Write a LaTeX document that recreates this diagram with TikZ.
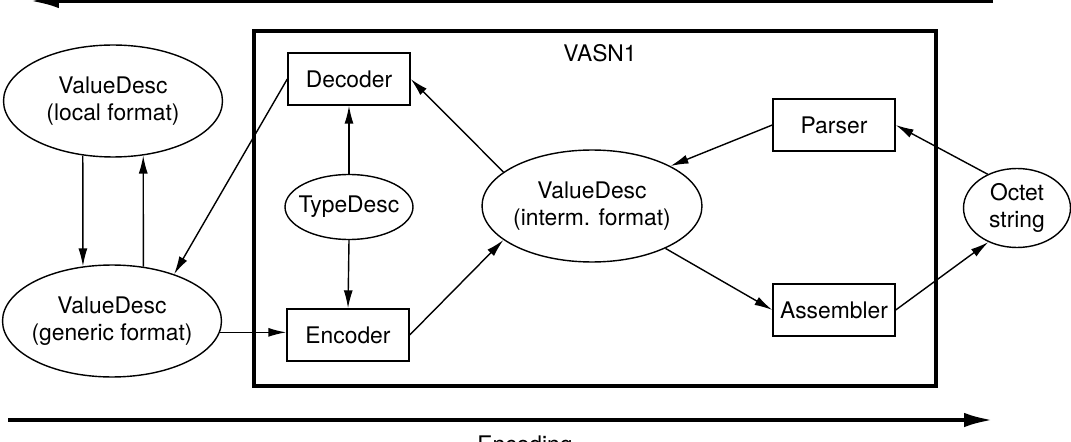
\documentclass[tikz,border=0pt]{standalone}
\usepackage{fontspec}
\setmainfont{TeX Gyre Heros}
\usetikzlibrary{shapes.geometric,arrows.meta,calc}

\begin{document}
\begin{tikzpicture}[x=0.02cm, y=-0.02cm, >={Latex[length=3.6mm,width=1.8mm]},
  font=\fontsize{13}{15.5}\selectfont,
  box/.style={draw, line width=0.8pt, align=center, inner sep=0pt, minimum width=2.44cm, minimum height=1.04cm},
  oval/.style={draw, ellipse, line width=0.8pt, align=center, inner sep=0pt, inner xsep=-0.6cm},
  link/.style={->, line width=0.8pt},
  flow/.style={line width=2.3pt, -{Latex[length=5.8mm,width=2.9mm]}}]
\useasboundingbox (0,0) rectangle (1071,442);
\clip (0,0) rectangle (1071,442);
% outer values
\node[oval, minimum width=4.38cm, minimum height=2.24cm] (loc) at (113,101) {ValueDesc\\(local format)};
\node[oval, minimum width=4.38cm, minimum height=2.24cm] (gen) at (112,321) {ValueDesc\\(generic format)};
\node[oval, minimum width=2.14cm, minimum height=1.58cm] (oct) at (1017,208) {Octet\\string};
% VASN1 module
\draw[line width=2pt] (254,31) rectangle (936,386);
\node (lbl) at (600,53) {VASN1};
\node[box] (dec) at (349,79) {Decoder};
\node[oval, minimum width=2.56cm, minimum height=1.3cm] (typ) at (349,207) {TypeDesc};
\node[box] (enc) at (348,335) {Encoder};
\node[oval, minimum width=4.4cm, minimum height=2.24cm] (mid) at (592,206) {ValueDesc\\(interm. format)};
\node[box] (par) at (834,125) {Parser};
\node[box] (asm) at (834,310) {Assembler};
% connectors
\draw[link] (loc.241) -- (gen.118);
\draw[link] (gen.60) -- (loc.299);
\draw[link] (dec.west) -- (gen.37);
\draw[link] (gen.-6) -- (gen.-6 -| enc.west);
\draw[link] (typ.north) -- (dec.south);
\draw[link] (typ.south) -- (enc.north);
\draw[link] (mid.159) -- (dec.east);
\draw[link] (enc.east) -- (mid.201);
\draw[link] (par.west) -- (mid.27);
\draw[link] (mid.-30) -- (asm.west);
\draw[link] (oct.131) -- (par.east);
\draw[link] (asm.east) -- (oct.230);
% direction arrows
\coordinate (dtail) at (993,1);
\coordinate (dhead) at (30,1);
\draw[flow] (dtail) -- (dhead);
\coordinate (etail) at (8,420);
\coordinate (ehead) at (993,420);
\draw[flow] (etail) -- (ehead);
\node[anchor=north, inner sep=0pt] (enclbl) at (525,435) {Encoding};
\end{tikzpicture}
\end{document}
